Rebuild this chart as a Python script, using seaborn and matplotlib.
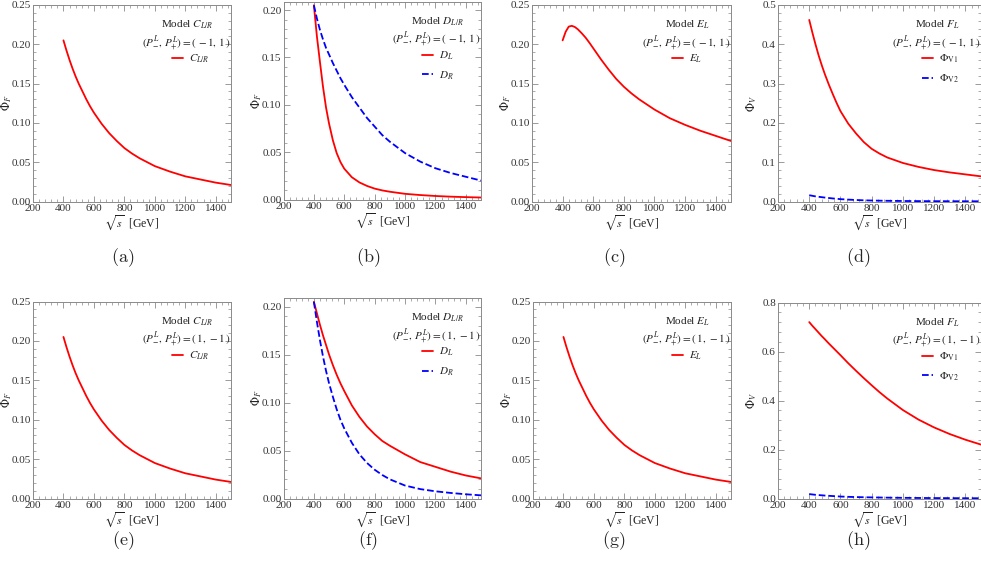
import matplotlib
matplotlib.use("Agg")
import matplotlib.pyplot as plt
import pandas as pd
import seaborn as sns
from matplotlib.ticker import FormatStrFormatter, MultipleLocator


# sqrt(s) sampling points [GeV]
SQRT_S = [400, 420, 440, 460, 480, 500, 525, 550, 575, 600, 650, 700, 750, 800, 850, 900,
          1000, 1100, 1200, 1300, 1400, 1500]

# (P-, P+) = (-1, 1)
C_LR_MP = [0.205, 0.192, 0.180, 0.169, 0.159, 0.150, 0.140, 0.130, 0.121, 0.113, 0.099, 0.087, 0.077, 0.068, 0.061, 0.055,
           0.045, 0.038, 0.032, 0.028, 0.024, 0.021]
D_L_MP = [0.205, 0.172, 0.145, 0.119, 0.097, 0.080, 0.0625, 0.049, 0.0395, 0.0325, 0.0235, 0.018, 0.0143, 0.0115, 0.0096, 0.0082,
          0.006, 0.0047, 0.0037, 0.003, 0.0025, 0.0021]
D_R_MP = [0.205, 0.191, 0.179, 0.169, 0.160, 0.153, 0.144, 0.136, 0.128, 0.121, 0.108, 0.097, 0.086, 0.077, 0.068, 0.061,
          0.049, 0.040, 0.033, 0.028, 0.024, 0.020]
E_L_MP = [0.205, 0.216, 0.2225, 0.2235, 0.222, 0.219, 0.214, 0.2085, 0.202, 0.195, 0.181, 0.168, 0.156, 0.146, 0.1375, 0.130,
          0.117, 0.106, 0.0975, 0.090, 0.0835, 0.077]
PHI_V1_MP = [0.462, 0.430, 0.400, 0.372, 0.347, 0.324, 0.298, 0.274, 0.251, 0.230, 0.198, 0.173, 0.151, 0.134, 0.122, 0.112,
             0.098, 0.088, 0.080, 0.074, 0.069, 0.064]
PHI_V2_MP = [0.016, 0.0145, 0.013, 0.012, 0.011, 0.010, 0.0089, 0.0078, 0.0069, 0.006, 0.0048, 0.0038, 0.003, 0.0025, 0.0021, 0.0018,
             0.0013, 0.001, 0.0008, 0.0007, 0.0006, 0.0005]

# (P-, P+) = (1, -1)
C_LR_PM = [0.205, 0.192, 0.180, 0.169, 0.159, 0.150, 0.140, 0.130, 0.121, 0.113, 0.099, 0.087, 0.077, 0.068, 0.061, 0.055,
           0.045, 0.038, 0.032, 0.028, 0.024, 0.021]
D_L_PM = [0.205, 0.193, 0.181, 0.170, 0.160, 0.150, 0.139, 0.129, 0.120, 0.112, 0.097, 0.085, 0.075, 0.067, 0.060, 0.055,
          0.046, 0.038, 0.033, 0.028, 0.024, 0.021]
D_R_PM = [0.205, 0.184, 0.165, 0.148, 0.133, 0.120, 0.106, 0.093, 0.082, 0.073, 0.058, 0.046, 0.037, 0.030, 0.0245, 0.020,
          0.0135, 0.0098, 0.0075, 0.0058, 0.0044, 0.0033]
E_L_PM = [0.205, 0.192, 0.180, 0.169, 0.159, 0.150, 0.140, 0.130, 0.121, 0.113, 0.099, 0.087, 0.077, 0.068, 0.061, 0.055,
          0.045, 0.038, 0.032, 0.028, 0.024, 0.021]
PHI_V1_PM = [0.720, 0.705, 0.691, 0.677, 0.663, 0.650, 0.633, 0.617, 0.601, 0.585, 0.552, 0.521, 0.491, 0.462, 0.434, 0.408,
             0.361, 0.322, 0.290, 0.263, 0.240, 0.220]
PHI_V2_PM = [0.018, 0.0165, 0.015, 0.014, 0.013, 0.012, 0.011, 0.010, 0.009, 0.008, 0.0068, 0.0058, 0.0051, 0.0045, 0.004, 0.0035,
             0.0028, 0.0022, 0.0018, 0.0015, 0.0012, 0.001]

POL_MP = r"$(P^L_{-},\,P^L_{+}) = (\,-1,\,1\,)$"
POL_PM = r"$(P^L_{-},\,P^L_{+}) = (\,1,\,-1\,)$"

# panel: caption, model, pol, ylabel, ytop, major, minor, fmt, curves
PANELS = [
    ("a", r"Model $C_{L/R}$", POL_MP, r"$\Phi_F$", 0.25, 0.05, 0.01, "%.2f",
     [(r"$C_{L/R}$", C_LR_MP, "red", "-")]),
    ("b", r"Model $D_{L/R}$", POL_MP, r"$\Phi_F$", 0.209, 0.05, 0.01, "%.2f",
     [(r"$D_L$", D_L_MP, "red", "-"), (r"$D_R$", D_R_MP, "blue", "--")]),
    ("c", r"Model $E_L$", POL_MP, r"$\Phi_F$", 0.25, 0.05, 0.01, "%.2f",
     [(r"$E_L$", E_L_MP, "red", "-")]),
    ("d", r"Model $F_L$", POL_MP, r"$\Phi_V$", 0.5, 0.1, 0.02, "%.1f",
     [(r"$\Phi_{\rm V1}$", PHI_V1_MP, "red", "-"), (r"$\Phi_{\rm V2}$", PHI_V2_MP, "blue", "--")]),
    ("e", r"Model $C_{L/R}$", POL_PM, r"$\Phi_F$", 0.25, 0.05, 0.01, "%.2f",
     [(r"$C_{L/R}$", C_LR_PM, "red", "-")]),
    ("f", r"Model $D_{L/R}$", POL_PM, r"$\Phi_F$", 0.209, 0.05, 0.01, "%.2f",
     [(r"$D_L$", D_L_PM, "red", "-"), (r"$D_R$", D_R_PM, "blue", "--")]),
    ("g", r"Model $E_L$", POL_PM, r"$\Phi_F$", 0.25, 0.05, 0.01, "%.2f",
     [(r"$E_L$", E_L_PM, "red", "-")]),
    ("h", r"Model $F_L$", POL_PM, r"$\Phi_V$", 0.8, 0.2, 0.04, "%.1f",
     [(r"$\Phi_{\rm V1}$", PHI_V1_PM, "red", "-"), (r"$\Phi_{\rm V2}$", PHI_V2_PM, "blue", "--")]),
]

# axes boxes in pixels: left, top, right, bottom
BOXES = [
    (33, 5, 231, 201.5), (283.5, 1.5, 481, 199.5), (532, 5, 731, 201.5), (778, 5, 981, 201.5),
    (33, 301.5, 231, 498.5), (283.5, 298, 481, 498.5), (533, 301.5, 731, 498.5), (778, 302.5, 981, 498.5),
]
CAPTION_X = [123, 368, 614, 858]
W, H = 981, 561

sns.set_theme(style="ticks")
plt.rcParams["font.family"] = ["Liberation Serif", "DejaVu Serif"]
plt.rcParams["mathtext.fontset"] = "stix"

fig = plt.figure(figsize=(W / 100, H / 100), dpi=100)
frame = "#8a8a8a"

for i, (cap, model, pol, ylab, ytop, major, minor, fmt, curves) in enumerate(PANELS):
    l, t, r, b = BOXES[i]
    ax = fig.add_axes([l / W, 1 - b / H, (r - l) / W, (b - t) / H])
    wpx, hpx = r - l, b - t

    for label, vals, color, ls in curves:
        df = pd.DataFrame({"s": SQRT_S, "phi": vals})
        sns.lineplot(data=df, x="s", y="phi", color=color, linestyle=ls, linewidth=1.3,
                     label=label, ax=ax, dashes=(3, 1.5) if ls == "--" else None)

    ax.set_xlim(200, 1500)
    ax.set_ylim(0, ytop)
    ax.xaxis.set_major_locator(MultipleLocator(200))
    ax.xaxis.set_minor_locator(MultipleLocator(40))
    ax.yaxis.set_major_locator(MultipleLocator(major))
    ax.yaxis.set_minor_locator(MultipleLocator(minor))
    ax.yaxis.set_major_formatter(FormatStrFormatter(fmt))
    ax.tick_params(which="both", direction="in", top=True, right=True, color=frame,
                   labelsize=8, labelcolor="#333333", pad=1.5)
    ax.tick_params(which="major", length=4, width=0.6)
    ax.tick_params(which="minor", length=2, width=0.5)
    for sp in ax.spines.values():
        sp.set_color(frame)
        sp.set_linewidth(0.7)

    ax.set_xlabel(r"$\sqrt{s}$  [GeV]", fontsize=8.5, color="#222222", labelpad=0.5)
    ax.set_ylabel(ylab, fontsize=8.5, color="#222222")
    ax.yaxis.set_label_coords(-19 / wpx, 0.5)

    ax.text(1 - 44 / wpx, 1 - 20 / hpx, model, transform=ax.transAxes, ha="center", va="center",
            fontsize=8, color="#222222")
    ax.text(1.0, 1 - 38 / hpx, pol, transform=ax.transAxes, ha="right", va="center",
            fontsize=8, color="#222222")
    ax.legend(loc="upper left", bbox_to_anchor=(1 - 59 / wpx, 1 - 48 / hpx), frameon=False,
              fontsize=8, handlelength=1.0, handletextpad=0.5, borderpad=0, borderaxespad=0,
              labelspacing=0.65)

    row = i // 4
    fig.text(CAPTION_X[i % 4] / W, 1 - (258 if row == 0 else 541) / H, r"$\mathrm{(" + cap + ")}$",
             ha="center", va="center", fontsize=13, math_fontfamily="cm")

fig.savefig("out.png", dpi=100)
